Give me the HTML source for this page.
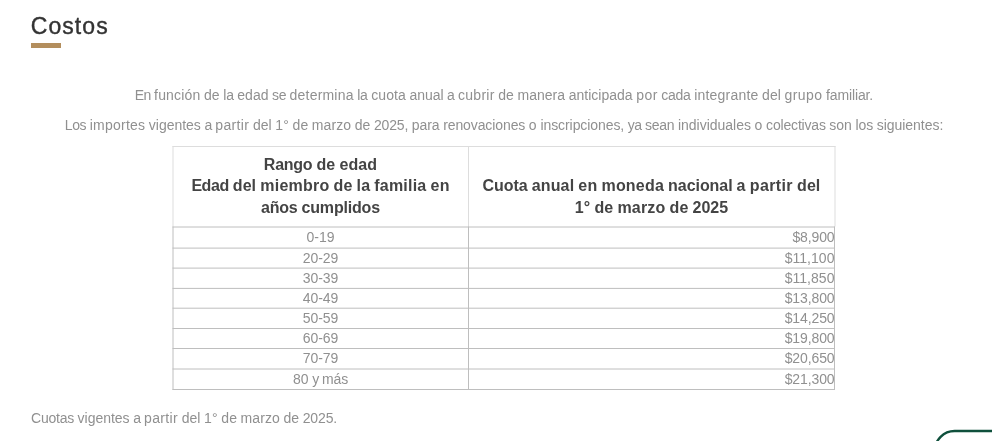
<!DOCTYPE html>
<html lang="es">
<head>
<meta charset="utf-8">
<title>Costos</title>
<style>
html,body{margin:0;padding:0;background:#fff;}
body{width:992px;height:441px;overflow:hidden;position:relative;font-family:"Liberation Sans",sans-serif;color:#909090;}
h2{position:absolute;left:30.8px;top:9px;margin:0;font-size:23px;line-height:34px;font-weight:normal;color:#333;letter-spacing:1.05px;-webkit-text-stroke:0.38px #333;}
.bar{position:absolute;left:31px;top:43px;width:30px;height:4.5px;background:#b38e5d;}
p{position:absolute;margin:0;left:31px;width:946px;text-align:center;font-size:14px;line-height:20px;white-space:nowrap;word-spacing:-0.328px;}
#p1{top:85px}
#p2{top:115px}
#p3{top:408px;text-align:left}
svg.grid{position:absolute;left:0;top:0;width:992px;height:441px;}
table{position:absolute;left:173px;top:146px;width:662px;border-collapse:separate;border-spacing:0;table-layout:fixed;font-size:14px;}
th{height:81px;padding:7.7px 0 0 0;box-sizing:border-box;font-size:16px;line-height:21.5px;color:#444;font-weight:bold;text-align:center;vertical-align:top;word-spacing:-0.375px;}
td{word-spacing:-0.328px;height:20px;padding:0;line-height:20px;text-align:center;vertical-align:top;}
tr.t td{height:21px;}
td.r{text-align:right;padding-right:0.5px;}
</style>
</head>
<body>
<h2>Costos</h2>
<div class="bar"></div>
<p id="p1"><span style="letter-spacing:-0.719px">En</span> <span style="letter-spacing:0.167px">función</span> <span style="letter-spacing:0.062px">de</span> <span style="letter-spacing:-0.203px">la</span> <span style="letter-spacing:0.008px">edad</span> <span style="letter-spacing:-0.430px">se</span> <span style="letter-spacing:0.200px">determina</span> <span style="letter-spacing:-0.203px">la</span> <span style="letter-spacing:0.075px">cuota</span> <span style="letter-spacing:-0.041px">anual</span> <span style="letter-spacing:-0.484px">a</span> <span style="letter-spacing:0.286px">cubrir</span> <span style="letter-spacing:0.062px">de</span> <span style="letter-spacing:0.021px">manera</span> <span style="letter-spacing:0.008px">anticipada</span> <span style="letter-spacing:0.453px">por</span> <span style="letter-spacing:-0.266px">cada</span> <span style="letter-spacing:0.208px">integrante</span> <span style="letter-spacing:0.068px">del</span> <span style="letter-spacing:0.419px">grupo</span> <span style="letter-spacing:-0.127px">familiar.</span></p>
<p id="p2"><span style="letter-spacing:-0.365px">Los</span> <span style="letter-spacing:0.230px">importes</span> <span style="letter-spacing:-0.021px">vigentes</span> <span style="letter-spacing:-0.484px">a</span> <span style="letter-spacing:0.359px">partir</span> <span style="letter-spacing:0.068px">del</span> <span style="letter-spacing:0.125px">1°</span> <span style="letter-spacing:0.062px">de</span> <span style="letter-spacing:0.069px">marzo</span> <span style="letter-spacing:0.062px">de</span> <span style="letter-spacing:-0.159px">2025,</span> <span style="letter-spacing:-0.031px">para</span> <span style="letter-spacing:-0.104px">renovaciones</span> <span style="letter-spacing:0.266px">o</span> <span style="letter-spacing:-0.075px">inscripciones,</span> <span style="letter-spacing:-0.539px">ya</span> <span style="letter-spacing:-0.246px">sean</span> <span style="letter-spacing:-0.018px">individuales</span> <span style="letter-spacing:0.266px">o</span> <span style="letter-spacing:-0.180px">colectivas</span> <span style="letter-spacing:0.000px">son</span> <span style="letter-spacing:-0.094px">los</span> <span style="letter-spacing:-0.030px">siguientes:</span></p>
<svg class="grid" viewBox="0 0 992 441">
<g stroke="#dddddd" stroke-width="1" fill="none">
<path d="M172.5 146.5H835.5M173 146V226.5M468.5 146V226.5M835 146V226.5"/>
</g>
<g stroke="#bebebe" stroke-width="1" fill="none">
<path d="M172.5 227.0H835M172.5 248.1H835M172.5 268.1H835M172.5 288.4H835M172.5 308.2H835M172.5 328.5H835M172.5 348.5H835M172.5 369.0H835M172.5 389.5H835"/>
<path d="M173 226.5V390M468.5 226.5V390M834.5 226.5V390"/>
</g>
<rect x="934.8" y="431" width="100" height="60" rx="19.8" ry="19.8" fill="#fff" stroke="#0f503c" stroke-width="2.4"/>
</svg>
<table>
<colgroup><col style="width:295px"><col style="width:367px"></colgroup>
<thead><tr><th><span style="letter-spacing:-0.259px">Rango</span> <span style="letter-spacing:0.109px">de</span> <span style="letter-spacing:0.109px">edad</span><br><span style="letter-spacing:-0.441px">Edad</span> <span style="letter-spacing:0.062px">del</span> <span style="letter-spacing:0.250px">miembro</span> <span style="letter-spacing:0.109px">de</span> <span style="letter-spacing:0.102px">la</span> <span style="letter-spacing:0.223px">familia</span> <span style="letter-spacing:0.203px">en</span><br><span style="letter-spacing:-0.238px">años</span> <span style="letter-spacing:-0.179px">cumplidos</span></th><th><br><span style="letter-spacing:-0.069px">Cuota</span> <span style="letter-spacing:0.153px">anual</span> <span style="letter-spacing:0.203px">en</span> <span style="letter-spacing:0.201px">moneda</span> <span style="letter-spacing:-0.061px">nacional</span> <span style="letter-spacing:0.219px">a</span> <span style="letter-spacing:0.378px">partir</span> <span style="letter-spacing:0.062px">del</span><br><span style="letter-spacing:0.141px">1°</span> <span style="letter-spacing:0.109px">de</span> <span style="letter-spacing:0.181px">marzo</span> <span style="letter-spacing:0.109px">de</span> <span style="letter-spacing:0.023px">2025</span></th></tr></thead>
<tbody>
<tr class="t"><td><span style="letter-spacing:-0.066px">0-19</span></td><td class="r"><span style="letter-spacing:-0.133px">$8,900</span></td></tr>
<tr><td><span style="letter-spacing:-0.050px">20-29</span></td><td class="r"><span style="letter-spacing:0.036px">$11,100</span></td></tr>
<tr><td><span style="letter-spacing:-0.050px">30-39</span></td><td class="r"><span style="letter-spacing:0.036px">$11,850</span></td></tr>
<tr><td><span style="letter-spacing:-0.050px">40-49</span></td><td class="r"><span style="letter-spacing:-0.112px">$13,800</span></td></tr>
<tr><td><span style="letter-spacing:-0.050px">50-59</span></td><td class="r"><span style="letter-spacing:-0.112px">$14,250</span></td></tr>
<tr><td><span style="letter-spacing:-0.050px">60-69</span></td><td class="r"><span style="letter-spacing:-0.112px">$19,800</span></td></tr>
<tr class="t"><td><span style="letter-spacing:-0.050px">70-79</span></td><td class="r"><span style="letter-spacing:-0.112px">$20,650</span></td></tr>
<tr><td><span style="letter-spacing:0.000px">80</span> <span style="letter-spacing:-0.594px">y</span> <span style="letter-spacing:-0.182px">más</span></td><td class="r"><span style="letter-spacing:-0.112px">$21,300</span></td></tr>
</tbody>
</table>
<p id="p3"><span style="letter-spacing:-0.221px">Cuotas</span> <span style="letter-spacing:-0.021px">vigentes</span> <span style="letter-spacing:-0.484px">a</span> <span style="letter-spacing:0.359px">partir</span> <span style="letter-spacing:0.068px">del</span> <span style="letter-spacing:0.125px">1°</span> <span style="letter-spacing:0.062px">de</span> <span style="letter-spacing:0.069px">marzo</span> <span style="letter-spacing:0.062px">de</span> <span style="letter-spacing:-0.113px">2025.</span></p>
</body>
</html>
